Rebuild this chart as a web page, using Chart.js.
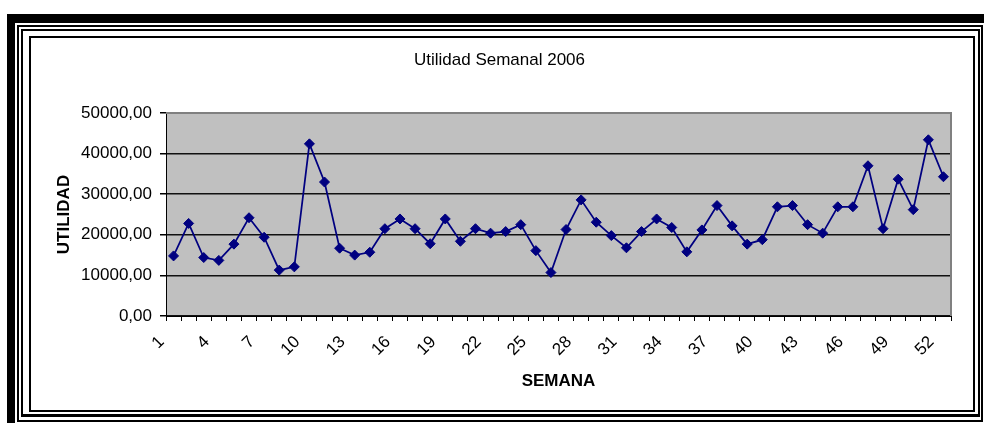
<!DOCTYPE html>
<html><head><meta charset="utf-8">
<script src="https://cdn.jsdelivr.net/npm/chart.js@4/dist/chart.umd.min.js"></script>
<style>
html,body{margin:0;padding:0;background:#fff;width:984px;height:426px;overflow:hidden;}
#wrap{position:relative;width:984px;height:426px;}
canvas{position:absolute;left:0;top:0;}
.f{position:absolute;box-sizing:border-box;pointer-events:none;}
</style></head><body>
<div id="wrap">
<canvas id="c" width="984" height="426"></canvas>
<div class="f" style="left:7px;top:14px;width:977px;height:9px;background:#000"></div>
<div class="f" style="left:7px;top:14px;width:8px;height:409px;background:#000"></div>
<div class="f" style="left:17px;top:25px;width:966px;height:397px;border:2px solid #000"></div>
<div class="f" style="left:21px;top:29px;width:959px;height:388px;border:2px solid #000;border-bottom-width:3px"></div>
<div class="f" style="left:29px;top:36px;width:946px;height:376px;border:2px solid #000"></div>
</div>
<script>
const weeks = ['1','2','3','4','5','6','7','8','9','10','11','12','13','14','15','16','17','18','19','20','21','22','23','24','25','26','27','28','29','30','31','32','33','34','35','36','37','38','39','40','41','42','43','44','45','46','47','48','49','50','51','52'];
const utilidad = [14800, 22800, 14400, 13700, 17700, 24200, 19400, 11300, 12100, 42400, 33000, 16700, 15000, 15700, 21500, 23900, 21500, 17800, 23900, 18400, 21500, 20400, 20800, 22500, 16100, 10700, 21300, 28600, 23100, 19800, 16800, 20800, 23900, 21800, 15800, 21200, 27200, 22200, 17700, 18800, 26900, 27200, 22500, 20400, 26900, 26900, 37000, 21500, 33700, 26200, 43400, 34300];
const shownWeekLabels = ['1','4','7','10','13','16','19','22','25','28','31','34','37','40','43','46','49','52'];
const yTickLabels = ['0,00','10000,00','20000,00','30000,00','40000,00','50000,00'];
const chartTitle = 'Utilidad Semanal 2006';
const xTitle = 'SEMANA';
const yTitle = 'UTILIDAD';

const FONT = "'Liberation Sans', Arial, sans-serif";

const plotFrame = {
  id: 'plotFrame',
  beforeDraw(chart) {
    const {ctx, chartArea: a} = chart;
    ctx.save();
    ctx.fillStyle = '#c0c0c0';
    ctx.fillRect(a.left, a.top, a.right - a.left, a.bottom - a.top);
    ctx.restore();
  },
  beforeDatasetsDraw(chart) {
    const {ctx, chartArea: a} = chart;
    ctx.save();
    ctx.strokeStyle = '#808080';
    ctx.lineWidth = 2;
    ctx.beginPath();
    ctx.moveTo(a.left, a.top);
    ctx.lineTo(a.right, a.top);
    ctx.lineTo(a.right, a.bottom);
    ctx.stroke();
    ctx.restore();
  }
};

new Chart(document.getElementById('c'), {
  type: 'line',
  data: {
    labels: weeks,
    datasets: [{
      data: utilidad,
      borderColor: '#000080',
      backgroundColor: '#000080',
      borderWidth: 1.75,
      pointStyle: 'rectRot',
      pointRadius: 5,
      pointBorderWidth: 1,
      pointBackgroundColor: '#000080',
      pointBorderColor: '#000080',
      tension: 0,
      fill: false
    }]
  },
  options: {
    responsive: false,
    animation: false,
    devicePixelRatio: 1,
    layout: { padding: { left: 48, right: 33, top: 0, bottom: 30 } },
    plugins: {
      legend: { display: false },
      tooltip: { enabled: false },
      title: {
        display: true,
        text: chartTitle,
        color: '#000',
        font: { family: FONT, size: 17, weight: 'normal' },
        padding: { top: 50, bottom: 42.6 }
      }
    },
    scales: {
      x: {
        type: 'category',
        offset: true,
        afterFit(scale) { scale.height = 80; },
        grid: { display: true, drawOnChartArea: false, drawTicks: true, tickLength: 5, tickColor: '#000', offset: true, lineWidth: 1 },
        border: { display: true, color: '#000', width: 1 },
        ticks: {
          autoSkip: false,
          maxRotation: 45,
          minRotation: 45,
          padding: 11,
          labelOffset: -12,
          color: '#000',
          font: { family: FONT, size: 17 },
          callback(value, index) { return shownWeekLabels.includes(weeks[index]) ? weeks[index] : ''; }
        },
        title: { display: true, text: xTitle, color: '#000', font: { family: FONT, size: 17, weight: 'bold' }, padding: { top: 4, bottom: 4 } }
      },
      y: {
        min: 0,
        max: 50000,
        afterFit(scale) { scale.width = 118; },
        grid: {
          color: (ctx) => (ctx.tick && ctx.tick.value === 50000) ? 'rgba(0,0,0,0)' : '#111',
          lineWidth: 1.5,
          drawTicks: true,
          tickLength: 6,
          tickColor: '#000'
        },
        border: { display: true, color: '#000', width: 1 },
        ticks: {
          stepSize: 10000,
          padding: 8,
          color: '#000',
          font: { family: FONT, size: 17 },
          callback(value, index) { return yTickLabels[index]; }
        },
        title: { display: true, text: yTitle, color: '#000', font: { family: FONT, size: 17, weight: 'bold' }, padding: { top: 6, bottom: 4 } }
      }
    }
  },
  plugins: [plotFrame]
});
</script>
</body></html>
